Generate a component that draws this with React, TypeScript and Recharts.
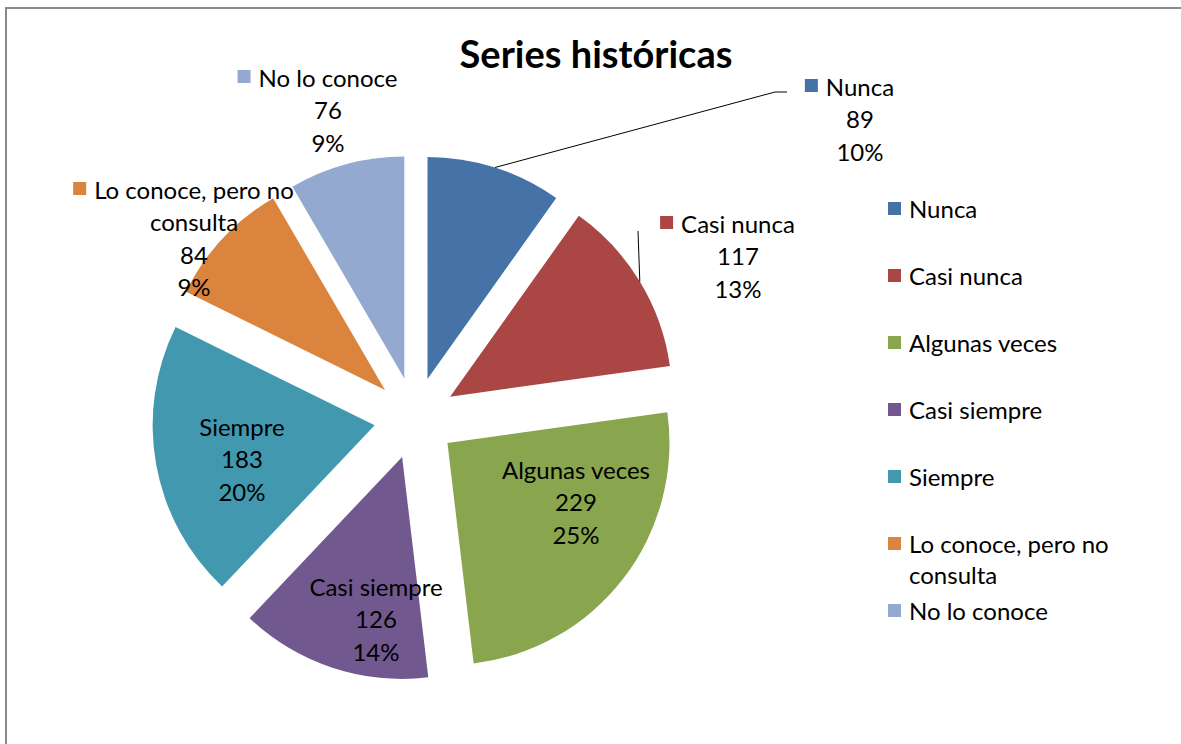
import React from 'react';
import { PieChart, Pie, Cell, Legend } from 'recharts';

// ---------- data ----------
const categories = [
  'Nunca',
  'Casi nunca',
  'Algunas veces',
  'Casi siempre',
  'Siempre',
  'Lo conoce, pero no consulta',
  'No lo conoce',
];
const values = [89, 117, 229, 126, 183, 84, 76];
const percentLabels = ['10%', '13%', '25%', '14%', '20%', '9%', '9%'];
const colors = ['#4572A7', '#AA4643', '#89A54E', '#71588F', '#4198AF', '#DB843D', '#93A9CF'];
const title = 'Series históricas';

const data = categories.map((name, i) => ({ name, value: values[i] }));

// ---------- layout ----------
const W = 1181;
const H = 744;
const CX = 415;
const CY = 418;
const R = 222;
const EXPLODE = 41;
const FONT = 'Lato, "Open Sans", sans-serif';
const FS = 24;
const LH = 32.5;
const RAD = Math.PI / 180;

// label block: center x / first line y relative to pie centre; leader polyline end points (relative)
const LABEL_LAYOUT: { dx: number; dy: number; leader?: [number, number][] }[] = [
  { dx: 445, dy: -332, leader: [[360, -326], [372, -326]] },
  { dx: 323, dy: -195, leader: [[223, -187]] },
  { dx: 161, dy: 51 },
  { dx: -39, dy: 168 },
  { dx: -173, dy: 8 },
  { dx: -221, dy: -229 },
  { dx: -87, dy: -341 },
];

const total = values.reduce((a, b) => a + b, 0);
const midAngles: number[] = [];
{
  let acc = 0;
  values.forEach((v) => {
    midAngles.push(((acc + v / 2) / total) * 360);
    acc += v;
  });
}

const measureCtx =
  typeof document !== 'undefined' ? document.createElement('canvas').getContext('2d') : null;
function textWidth(s: string, size: number) {
  if (!measureCtx) return s.length * size * 0.5;
  measureCtx.font = `${size}px ${FONT}`;
  return measureCtx.measureText(s).width;
}

function wrap(s: string, maxChars = 18): string[] {
  const words = s.split(' ');
  const out: string[] = [];
  let cur = '';
  words.forEach((w) => {
    const next = cur ? cur + ' ' + w : w;
    if (next.length > maxChars && cur) {
      out.push(cur);
      cur = w;
    } else cur = next;
  });
  if (cur) out.push(cur);
  return out;
}

const renderLabel = (props: any) => {
  const { index } = props;
  const cx = props.cx ?? CX;
  const cy = props.cy ?? CY;
  const outerRadius = props.outerRadius ?? R;
  const L = LABEL_LAYOUT[index];
  const bx = cx + L.dx;
  const by = cy + L.dy;
  const lines = [...wrap(categories[index]), String(values[index]), percentLabels[index]];
  const w0 = textWidth(lines[0], FS);
  const keyX = bx - w0 / 2 - 8 - 13;
  let leader = null;
  if (L.leader) {
    const rc = props.midAngle as number;
    const rr = outerRadius + EXPLODE;
    const sx = cx + rr * Math.cos(-rc * RAD);
    const sy = cy + rr * Math.sin(-rc * RAD);
    const pts = [[sx, sy], ...L.leader.map(([x, y]) => [cx + x, cy + y])];
    leader = (
      <polyline
        points={pts.map((p) => p.join(',')).join(' ')}
        fill="none"
        stroke="#000"
        strokeWidth={1}
      />
    );
  }
  return (
    <g key={`lbl-${index}`}>
      {leader}
      <rect x={keyX} y={by - 7} width={13} height={13} fill={colors[index]} />
      {lines.map((t, k) => (
        <text
          key={k}
          x={bx}
          y={by + k * LH}
          textAnchor="middle"
          dominantBaseline="central"
          fontFamily={FONT}
          fontSize={FS}
          fill="#000"
        >
          {t}
        </text>
      ))}
    </g>
  );
};

const renderLegend = () => (
  <div style={{ position: 'relative', width: 280, height: 440, fontFamily: FONT, fontSize: FS }}>
    {categories.map((c, i) => (
      <div
        key={c}
        style={{
          position: 'absolute',
          left: 0,
          top: i * 67 - 17,
          display: 'flex',
          alignItems: 'flex-start',
          lineHeight: '31px',
          color: '#000',
        }}
      >
        <div
          style={{
            width: 13,
            height: 13,
            background: colors[i],
            marginTop: 9,
            marginRight: 8,
            flex: 'none',
          }}
        />
        <div>
          {wrap(c).map((t, k) => (
            <div key={k} style={{ whiteSpace: 'nowrap' }}>
              {t}
            </div>
          ))}
        </div>
      </div>
    ))}
  </div>
);

export default function App() {
  return (
    <div style={{ position: 'absolute', left: 0, top: 0, width: W, height: H, background: '#fff', overflow: 'hidden' }}>
      <div
        style={{
          position: 'absolute',
          left: 5,
          top: 7,
          width: W,
          height: H,
          borderTop: '2px solid #8a8a8a',
          borderLeft: '2px solid #8a8a8a',
        }}
      />
      <div
        style={{
          position: 'absolute',
          left: 346,
          width: 500,
          top: 31,
          textAlign: 'center',
          fontFamily: FONT,
          fontWeight: 700,
          fontSize: 38,
          lineHeight: '44px',
          color: '#000',
        }}
      >
        {title}
      </div>
      <div style={{ position: 'absolute', left: 0, top: 0 }}>
        <PieChart width={W} height={H} margin={{ top: 0, right: 0, bottom: 0, left: 0 }}>
          {categories.map((_, i) => {
            const m = midAngles[i] * RAD;
            return (
              <Pie
                key={`pie-${i}`}
                data={data}
                dataKey="value"
                nameKey="name"
                cx={CX + EXPLODE * Math.sin(m)}
                cy={CY - EXPLODE * Math.cos(m)}
                outerRadius={R}
                startAngle={90}
                endAngle={-270}
                stroke="none"
                isAnimationActive={false}
                legendType={i === 0 ? 'square' : 'none'}
                label={false}
                labelLine={false}
              >
                {data.map((d, j) => (
                  <Cell key={d.name} fill={j === i ? colors[j] : 'none'} />
                ))}
              </Pie>
            );
          })}
          <Pie
            data={data}
            dataKey="value"
            nameKey="name"
            cx={CX}
            cy={CY}
            outerRadius={R}
            startAngle={90}
            endAngle={-270}
            stroke="none"
            fill="none"
            isAnimationActive={false}
            legendType="none"
            label={renderLabel}
            labelLine={false}
          >
            {data.map((d) => (
              <Cell key={d.name} fill="none" />
            ))}
          </Pie>
          <Legend
            layout="vertical"
            align="right"
            verticalAlign="top"
            content={renderLegend}
            wrapperStyle={{ left: 888, top: 210, width: 280 }}
          />
        </PieChart>
      </div>
    </div>
  );
}
